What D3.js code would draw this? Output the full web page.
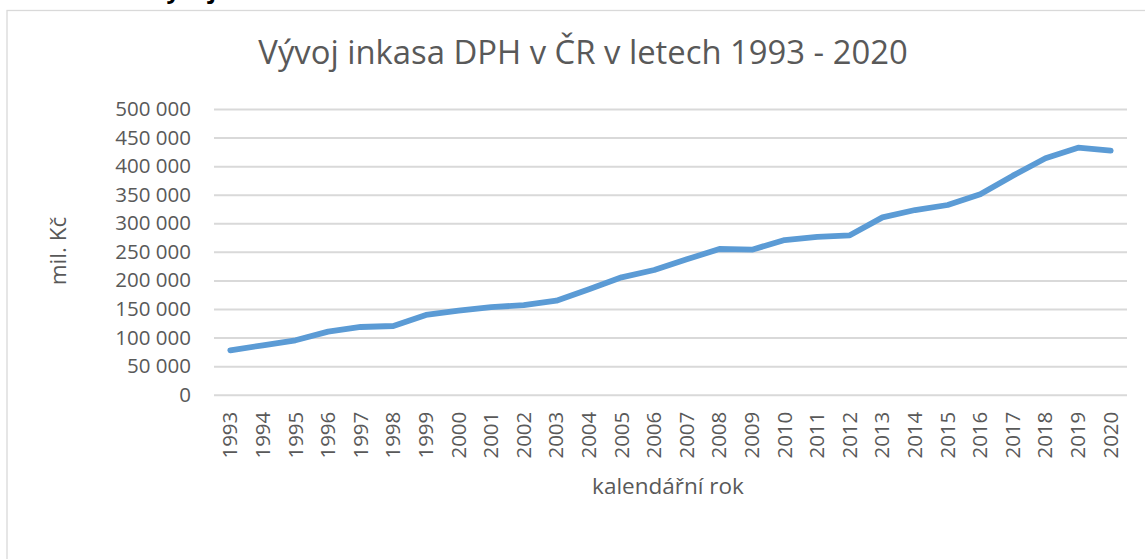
<!DOCTYPE html>
<html>
<head>
<meta charset="utf-8">
<script src="https://cdn.jsdelivr.net/npm/d3@7"></script>
<style>
  html, body { margin: 0; padding: 0; background: #fff; }
  svg { display: block; }
  text { font-family: "Open Sans", sans-serif; }
</style>
</head>
<body>
<svg id="chart" width="1145" height="559"></svg>
<script>
const years = ["1993","1994","1995","1996","1997","1998","1999","2000","2001","2002",
  "2003","2004","2005","2006","2007","2008","2009","2010","2011","2012",
  "2013","2014","2015","2016","2017","2018","2019","2020"];
const vatRevenue = [77700, 86400, 95200, 110300, 118500, 120200, 139500, 147000, 153300, 156700,
  164500, 184400, 205400, 218200, 236900, 255000, 253800, 270700, 276300, 279000,
  310400, 323200, 332000, 350700, 383300, 413700, 432300, 427000];
const yTicks = [0, 50000, 100000, 150000, 200000, 250000, 300000, 350000, 400000, 450000, 500000];
const titleText = "Vývoj inkasa DPH v ČR v letech 1993 - 2020";
const xTitle = "kalendářní rok";
const yTitle = "mil. Kč";

const svg = d3.select("#chart");
const W = 1145, H = 559;
const plot = { left: 214, right: 1127, top: 109, bottom: 394.7 };

// Heading text of the surrounding page, clipped at the top edge (only descenders visible)
svg.append("text")
  .attr("x", 151).attr("y", -2)
  .attr("font-size", 24).attr("font-weight", "bold")
  .attr("fill", "#000")
  .text("Vývoj");

// Chart area border
svg.append("rect")
  .attr("x", 7).attr("y", 10.5)
  .attr("width", W + 20).attr("height", H + 20)
  .attr("fill", "#fff").attr("stroke", "#d9d9d9").attr("stroke-width", 1.3);

const x = d3.scaleBand().domain(years).range([plot.left, plot.right]).padding(0);
const y = d3.scaleLinear().domain([0, 500000]).range([plot.bottom, plot.top]);

const locale = d3.formatLocale({ decimal: ",", thousands: " ", grouping: [3], currency: ["", " Kč"] });
const fmt = locale.format(",d");

// Y axis with gridlines
const yAxis = d3.axisLeft(y).tickValues(yTicks).tickFormat(fmt)
  .tickSize(-(plot.right - plot.left)).tickPadding(23);
const gy = svg.append("g").attr("transform", `translate(${plot.left},0)`).call(yAxis);
gy.select(".domain").remove();
gy.selectAll(".tick line").attr("stroke", "#d9d9d9").attr("stroke-width", 2);
gy.selectAll(".tick text")
  .attr("fill", "#595959").attr("font-size", 20.5)
  .attr("font-family", "'Open Sans', sans-serif");

// X axis labels
const xAxis = d3.axisBottom(x).tickSize(0).tickPadding(0);
const gx = svg.append("g").attr("transform", `translate(0,${plot.bottom})`).call(xAxis);
gx.select(".domain").remove();
gx.selectAll(".tick text")
  .attr("fill", "#595959").attr("font-size", 20.5)
  .attr("font-family", "'Open Sans', sans-serif")
  .attr("text-anchor", "end")
  .attr("dy", null)
  .attr("transform", "translate(7,17) rotate(-90)");

// Line
const line = d3.line()
  .x((d, i) => x(years[i]) + x.bandwidth() / 2)
  .y(d => y(d));
svg.append("path")
  .datum(vatRevenue)
  .attr("d", line)
  .attr("fill", "none")
  .attr("stroke", "#5b9bd5")
  .attr("stroke-width", 5.8)
  .attr("stroke-linejoin", "round")
  .attr("stroke-linecap", "round");

// Title
svg.append("text")
  .attr("x", 583).attr("y", 64)
  .attr("text-anchor", "middle")
  .attr("fill", "#595959").attr("font-size", 32.8)
  .text(titleText);

// Axis titles
svg.append("text")
  .attr("x", 668).attr("y", 494)
  .attr("text-anchor", "middle")
  .attr("fill", "#595959").attr("font-size", 22.5)
  .text(xTitle);

svg.append("text")
  .attr("transform", "translate(66,251) rotate(-90)")
  .attr("text-anchor", "middle")
  .attr("fill", "#595959").attr("font-size", 22.5)
  .text(yTitle);
</script>
</body>
</html>
